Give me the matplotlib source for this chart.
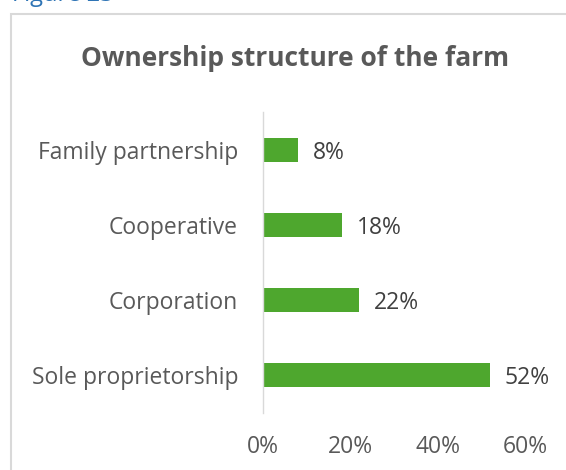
import matplotlib.pyplot as plt
from matplotlib.patches import Rectangle

plt.rcParams['font.family'] = ['Open Sans', 'DejaVu Sans']

# ownership categories, bottom to top
categories = ['Sole proprietorship', 'Corporation', 'Cooperative', 'Family partnership']
shares = [52, 22, 18, 8]
xticks = [0, 20, 40, 60]

bar_color = '#4ea72e'
text_grey = '#595959'

fig = plt.figure(figsize=(5.66, 4.70), dpi=100)

# caption above the chart frame (runs off the top edge)
fig.text(0.022, 0.985, 'Figure 23', fontsize=17, color='#2e74b5',
         ha='left', va='bottom')

# chart frame
frame = Rectangle((11 / 566, -0.1), 1.2, 1 - 14 / 470 + 0.1,
                  transform=fig.transFigure, fill=False,
                  edgecolor='#d9d9d9', linewidth=1.5)
fig.patches.append(frame)

fig.text(295 / 566, 1 - 59 / 470, 'Ownership structure of the farm',
         fontsize=19, fontweight='bold', color=text_grey,
         ha='center', va='center')

ax = fig.add_axes([263 / 566, 57.5 / 470, 262 / 566, 300 / 470])
ypos = range(len(categories))
ax.barh(ypos, shares, height=0.31, color=bar_color)

for y, v in zip(ypos, shares):
    ax.text(v + 3.4, y, f'{v}%', va='center_baseline', ha='left',
            fontsize=16.5, color='#404040')

ax.set_xlim(0, 60)
ax.set_ylim(-0.5, len(categories) - 0.5)
ax.set_xticks(xticks)
ax.set_xticklabels([f'{t}%' for t in xticks], fontsize=16.5, color=text_grey)
ax.set_yticks(list(ypos))
ax.set_yticklabels(categories, fontsize=16.5, color=text_grey)
ax.tick_params(axis='both', length=0)
ax.tick_params(axis='y', pad=18)
ax.tick_params(axis='x', pad=16)

for side in ['top', 'right', 'bottom']:
    ax.spines[side].set_visible(False)
ax.spines['left'].set_color('#d9d9d9')
ax.spines['left'].set_linewidth(1.0)

fig.savefig('out.png', dpi=100)
